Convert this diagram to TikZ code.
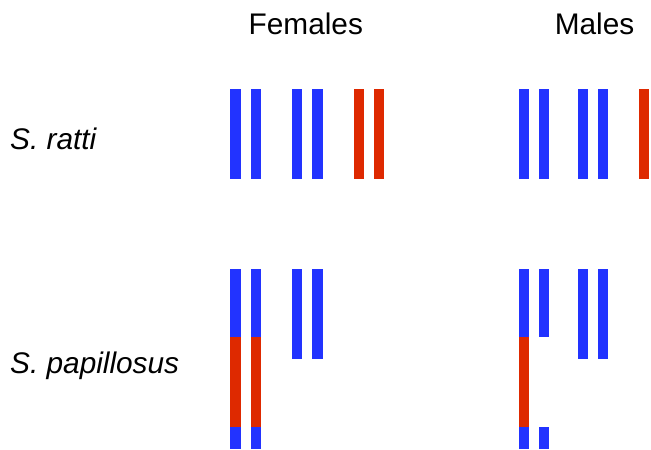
\documentclass[tikz,border=0pt]{standalone}
\usepackage{fontspec}
\setmainfont{Liberation Sans}
\definecolor{cblue}{RGB}{34,51,255}
\definecolor{cred}{RGB}{222,41,0}
\begin{document}
\begin{tikzpicture}[x=1pt,y=-1pt,
  lbl/.style={anchor=base west,inner sep=0pt,font=\fontsize{29.8}{34}\selectfont},
  bb/.style={fill=cblue},
  rb/.style={fill=cred}]
\useasboundingbox (0,0) rectangle (651,450);
\node[lbl] (fem) at (248.5,34.5) {Females};
\node[lbl] (mal) at (554.6,34.5) {Males};
\node[lbl] (ratti) at (10,149) {\itshape S. ratti};
\node[lbl] (papi) at (10,373.3) {\itshape S. papillosus};
% S. ratti females
\fill[bb] (230,89) rectangle (240.5,178.7);
\fill[bb] (250.5,89) rectangle (261,178.7);
\fill[bb] (292,89) rectangle (302.3,178.7);
\fill[bb] (312.3,89) rectangle (322.7,178.7);
\fill[rb] (353.7,89) rectangle (364,178.7);
\fill[rb] (373.7,89) rectangle (384,178.7);
% S. ratti males
\fill[bb] (519,89) rectangle (529.3,178.7);
\fill[bb] (539,89) rectangle (549.3,178.7);
\fill[bb] (577.7,89) rectangle (588,178.7);
\fill[bb] (598,89) rectangle (608.3,178.7);
\fill[rb] (639,89) rectangle (649.3,178.7);
% S. papillosus females
\foreach \x in {230,250.5}{
  \fill[bb] (\x,269) rectangle ++(10.5,68);
  \fill[rb] (\x,337) rectangle ++(10.5,89.7);
  \fill[bb] (\x,426.7) rectangle ++(10.5,22);
}
\fill[bb] (292,269) rectangle (302.3,358.7);
\fill[bb] (312.3,269) rectangle (322.7,358.7);
% S. papillosus males
\fill[bb] (519,269) rectangle (529.3,337);
\fill[rb] (519,337) rectangle (529.3,426.7);
\fill[bb] (519,426.7) rectangle (529.3,448.7);
\fill[bb] (539,269) rectangle (549.3,337);
\fill[bb] (539,426.7) rectangle (549.3,448.7);
\fill[bb] (577.7,269) rectangle (588,358.7);
\fill[bb] (598,269) rectangle (608.3,358.7);
\end{tikzpicture}
\end{document}
